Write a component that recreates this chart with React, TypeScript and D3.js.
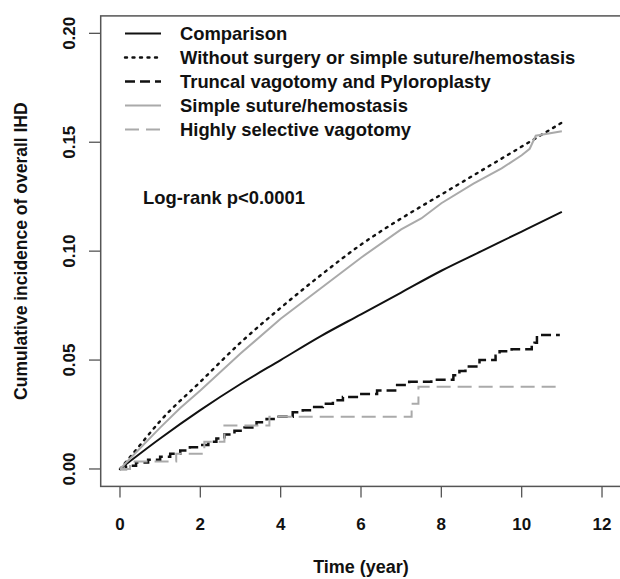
import * as d3 from 'd3'

// time (year) -> cumulative incidence
const comparison: [number, number][] = [
  [0, 0], [1, 0.014], [2, 0.027], [3, 0.039], [4, 0.05], [5, 0.061], [6, 0.071],
  [7, 0.081], [8, 0.091], [9, 0.1], [10, 0.109], [11, 0.118],
]
const withoutSurgery: [number, number][] = [
  [0, 0], [0.5, 0.011], [1, 0.022], [2, 0.04], [3, 0.058], [4, 0.074], [5, 0.089],
  [6, 0.103], [7, 0.115], [8, 0.126], [9, 0.137], [10, 0.148], [11, 0.159],
]
const simpleSuture: [number, number][] = [
  [0, 0], [0.5, 0.0095], [1, 0.019], [1.5, 0.028], [2, 0.036], [3, 0.053], [4, 0.069],
  [4.5, 0.076], [5, 0.083], [6, 0.097], [7, 0.11], [7.5, 0.115], [8, 0.122],
  [8.8, 0.131], [9.5, 0.138], [10.0, 0.144], [10.2, 0.147], [10.35, 0.153], [11, 0.155],
]
const truncal: [number, number][] = [
  [0, 0], [0.15, 0.0015], [0.4, 0.003], [0.7, 0.0042], [1.0, 0.0056], [1.25, 0.007],
  [1.5, 0.0085], [1.74, 0.01], [1.95, 0.011], [2.2, 0.0125], [2.4, 0.014],
  [2.6, 0.0158], [2.85, 0.0175], [3.1, 0.019], [3.4, 0.0215], [3.65, 0.023],
  [3.95, 0.024], [4.3, 0.026], [4.55, 0.027], [4.8, 0.0285], [5.05, 0.03],
  [5.3, 0.0315], [5.55, 0.033], [5.95, 0.0344], [6.4, 0.036], [6.85, 0.0386],
  [7.2, 0.04], [7.75, 0.041], [8.3, 0.043], [8.45, 0.045], [8.6, 0.047],
  [8.95, 0.05], [9.35, 0.052], [9.45, 0.054], [9.75, 0.055], [10.25, 0.056],
  [10.32, 0.058], [10.38, 0.0615], [10.95, 0.0615],
]
const highlySelective: [number, number][] = [
  [0, 0], [0.25, 0.0034], [1.4, 0.007], [2.1, 0.0125], [2.6, 0.02], [3.72, 0.024],
  [7.26, 0.03], [7.43, 0.0378], [10.96, 0.0378],
]

const timeTicks = [0, 2, 4, 6, 8, 10, 12]
const incTicks = [0, 0.05, 0.1, 0.15, 0.2]

const legendNames = [
  'Comparison',
  'Without surgery or simple suture/hemostasis',
  'Truncal vagotomy and Pyloroplasty',
  'Simple suture/hemostasis',
  'Highly selective vagotomy',
]

const GRAY = '#aaaaaa'
const styles = [
  { stroke: '#111', dash: 'none', width: 2 },
  { stroke: '#111', dash: '2,5.5', width: 2.4 },
  { stroke: '#111', dash: '10,5', width: 2.5 },
  { stroke: GRAY, dash: 'none', width: 2 },
  { stroke: GRAY, dash: '14,7', width: 2 },
]

const W = 620
const H = 579
const FONT = '"Liberation Sans", Arial, sans-serif'

export default function App() {
  const x = d3.scaleLinear().domain([-0.48, 12.48]).range([100.7, 621.3])
  const y = d3.scaleLinear().domain([-0.008, 0.208]).range([486.4, 15.9])

  const smooth = d3.line<[number, number]>().x(d => x(d[0])).y(d => y(d[1])).curve(d3.curveMonotoneX)
  const straight = d3.line<[number, number]>().x(d => x(d[0])).y(d => y(d[1]))
  const step = d3.line<[number, number]>().x(d => x(d[0])).y(d => y(d[1])).curve(d3.curveStepAfter)

  const paths = [
    smooth(comparison),
    smooth(withoutSurgery),
    step(truncal),
    straight(simpleSuture),
    step(highlySelective),
  ]

  const axisColor = '#555'

  return (
    <svg width={W} height={H} style={{ position: 'absolute', left: 0, top: 0, background: '#fff' }}
      fontFamily={FONT} fontWeight="bold">
      {/* plot box */}
      <rect x={x(-0.48)} y={y(0.208)} width={x(12.48) - x(-0.48)} height={y(-0.008) - y(0.208)}
        fill="none" stroke={axisColor} strokeWidth={1.5} />

      {/* y axis */}
      {incTicks.map(t => (
        <g key={'y' + t}>
          <line x1={89} x2={x(-0.48)} y1={y(t)} y2={y(t)} stroke={axisColor} strokeWidth={1.3} />
          <text transform={`translate(75,${y(t)}) rotate(-90)`} textAnchor="middle" fontSize={17} fill="#111">
            {t.toFixed(2)}
          </text>
        </g>
      ))}
      <text transform={`translate(27,${(y(-0.008) + y(0.208)) / 2}) rotate(-90)`} textAnchor="middle"
        fontSize={17.5} fill="#111">Cumulative incidence of overall IHD</text>

      {/* x axis */}
      {timeTicks.map(t => (
        <g key={'x' + t}>
          <line x1={x(t)} x2={x(t)} y1={y(-0.008)} y2={497.5} stroke={axisColor} strokeWidth={1.3} />
          <text x={x(t)} y={530} textAnchor="middle" fontSize={17} fill="#111">{t}</text>
        </g>
      ))}
      <text x={(x(-0.48) + x(12.48)) / 2} y={573} textAnchor="middle" fontSize={18} fill="#111">
        Time (year)
      </text>

      {/* curves */}
      {paths.map((p, i) => (
        <path key={'c' + i} d={p ?? ''} fill="none" stroke={styles[i].stroke}
          strokeWidth={styles[i].width} strokeDasharray={styles[i].dash}
          strokeLinecap={i === 1 ? 'round' : 'butt'} />
      ))}

      {/* legend */}
      {legendNames.map((name, i) => {
        const ly = 33.5 + i * 24
        return (
          <g key={'l' + i}>
            <line x1={125} x2={161} y1={ly} y2={ly} stroke={styles[i].stroke}
              strokeWidth={styles[i].width} strokeDasharray={styles[i].dash}
              strokeLinecap={i === 1 ? 'round' : 'butt'} />
            <text x={180} y={ly + 6.5} fontSize={18.4} fill="#111">{name}</text>
          </g>
        )
      })}

      <text x={143} y={204} fontSize={18.4} fill="#111">Log-rank p&lt;0.0001</text>
    </svg>
  )
}
